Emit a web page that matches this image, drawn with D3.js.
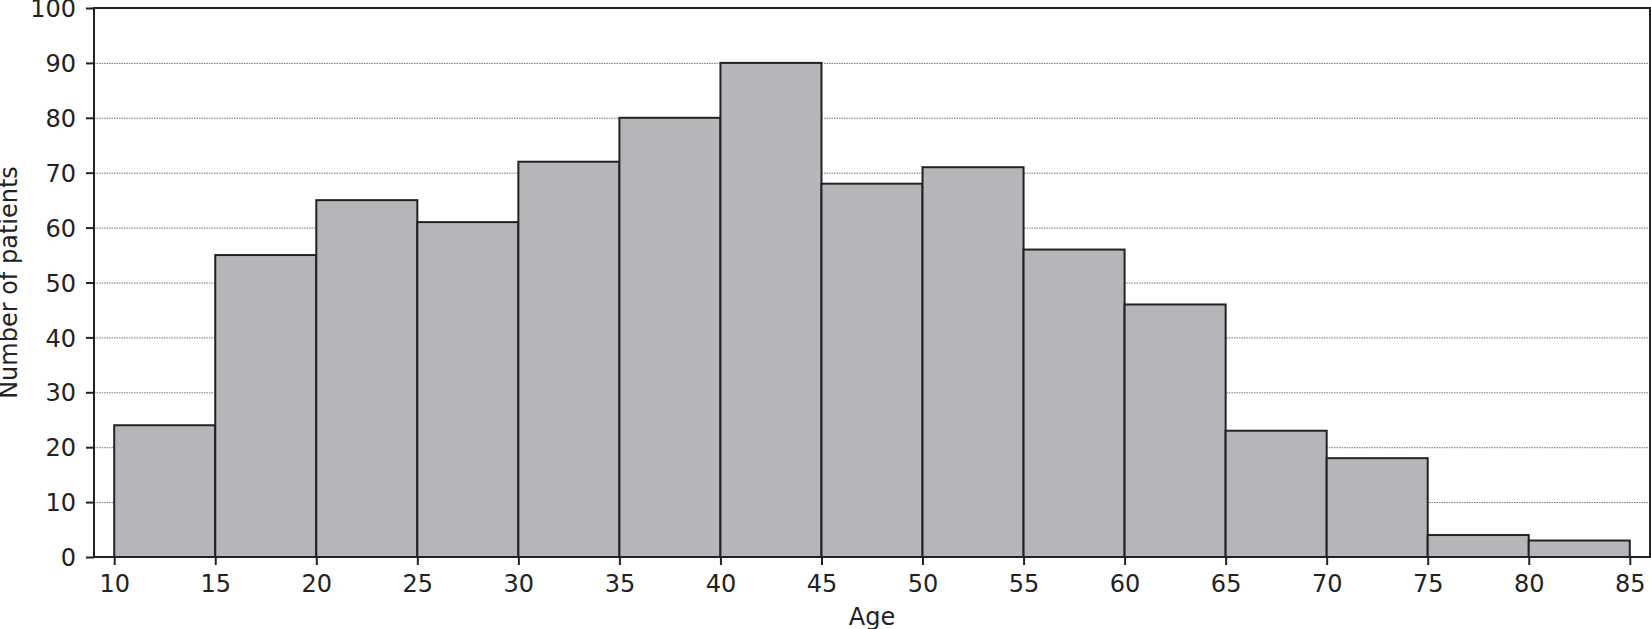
<!DOCTYPE html>
<html><head><meta charset="utf-8">
<script src="https://cdn.jsdelivr.net/npm/d3@7"></script>
<style>body{margin:0;background:#fff;} text{font-family:"DejaVu Sans",sans-serif;fill:#222;}</style>
</head><body><svg id="c" width="1651" height="629"></svg>
<script>
const binStarts = [10,15,20,25,30,35,40,45,50,55,60,65,70,75,80];
const binWidth = 5;
const counts = [24,55,65,61,72,80,90,68,71,56,46,23,18,4,3];
const xTicks = [10,15,20,25,30,35,40,45,50,55,60,65,70,75,80,85];
const yTicks = [0,10,20,30,40,50,60,70,80,90,100];

const svg = d3.select("#c");
const L=94, R=1650, T=8, B=557;
const x = d3.scaleLinear().domain([9,86]).range([L,R]);
const y = d3.scaleLinear().domain([0,100]).range([B,T]);

// grid
svg.append("g").selectAll("line").data(yTicks.filter(d=>d>0&&d<100)).join("line")
  .attr("x1",L).attr("x2",R).attr("y1",d=>y(d)+0.5).attr("y2",d=>y(d)+0.5)
  .attr("stroke","#777").attr("stroke-width",1).attr("stroke-dasharray","1.5,1");

// bars
svg.append("g").selectAll("rect").data(counts).join("rect")
  .attr("x",(d,i)=>x(binStarts[i])).attr("width",(d,i)=>x(binStarts[i]+binWidth)-x(binStarts[i]))
  .attr("y",d=>y(d)).attr("height",d=>y(0)-y(d))
  .attr("fill","#b5b6ba").attr("stroke","#222").attr("stroke-width",2);

// axes
const xa = svg.append("g").attr("transform",`translate(0,${B})`)
  .call(d3.axisBottom(x).tickValues(xTicks).tickSize(8).tickSizeOuter(0));
const ya = svg.append("g").attr("transform",`translate(${L},0)`)
  .call(d3.axisLeft(y).tickValues(yTicks).tickSize(8).tickSizeOuter(0));
[xa,ya].forEach(a=>{
  a.select(".domain").remove();
  a.selectAll(".tick line").attr("stroke","#222").attr("stroke-width",2);
  a.selectAll(".tick text").attr("font-size","24px").attr("font-family","DejaVu Sans").attr("fill","#222");
});
xa.selectAll(".tick text").attr("y",35).attr("dy",0);
ya.selectAll(".tick text").attr("x",-18).attr("dy","0.36em");
// frame
svg.append("rect").attr("x",L).attr("y",T).attr("width",R-L).attr("height",B-T)
  .attr("fill","none").attr("stroke","#222").attr("stroke-width",2);

svg.append("text").attr("x",(L+R)/2).attr("y",625).attr("text-anchor","middle")
  .attr("font-size","24px").text("Age");
svg.append("text").attr("transform",`translate(17,${(T+B)/2}) rotate(-90)`).attr("text-anchor","middle")
  .attr("font-size","24px").text("Number of patients");
</script></body></html>
